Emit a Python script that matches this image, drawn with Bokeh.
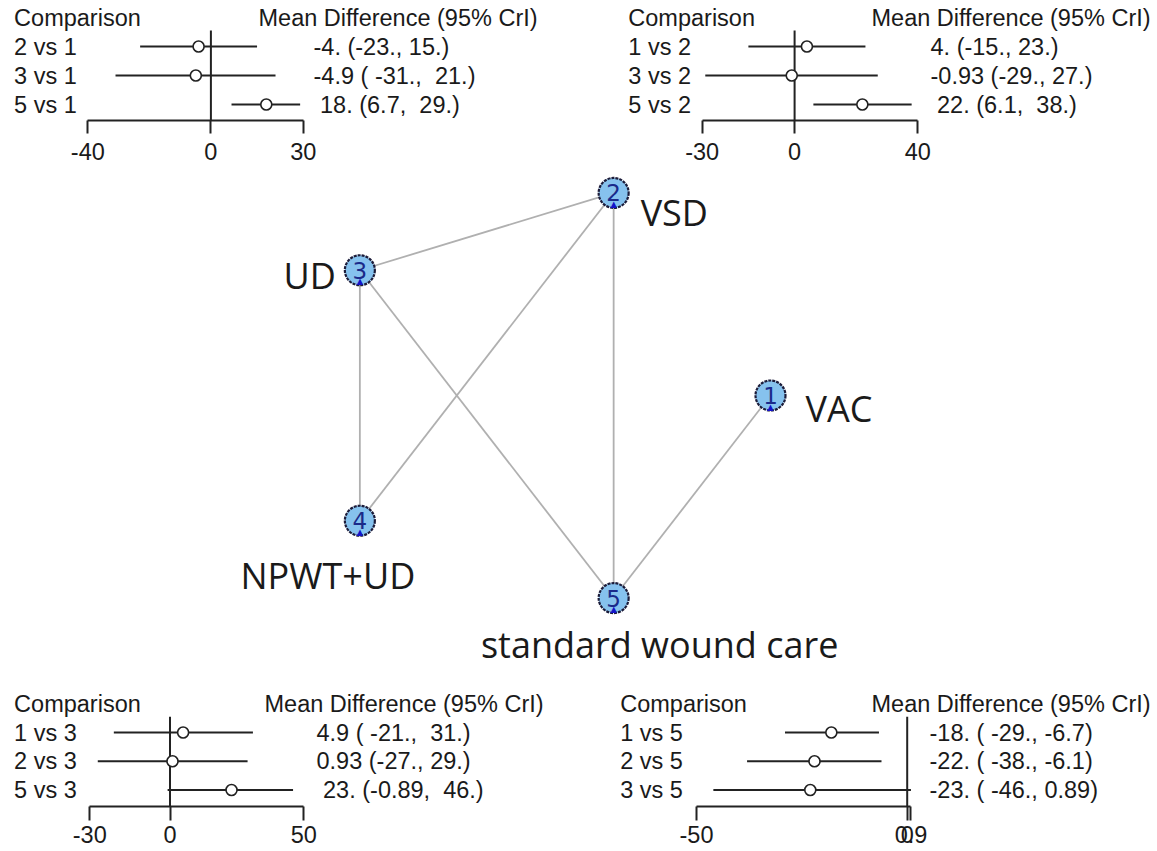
from bokeh.plotting import figure
from bokeh.models import Range1d, LinearAxis, FixedTicker, CustomJSTickFormatter
from bokeh.layouts import column, row
from bokeh.core.properties import value
from bokeh.embed import file_html
from bokeh.resources import INLINE

# ---------------- data ----------------
header_comp = "Comparison"
header_md = "Mean Difference (95% CrI)"

tl_labels = ["2 vs 1", "3 vs 1", "5 vs 1"]
tl_mean = [-4.0, -4.9, 18.0]
tl_lower = [-23.0, -31.0, 6.7]
tl_upper = [15.0, 21.0, 29.0]
tl_text = ["-4. (-23., 15.)", "-4.9 ( -31.,  21.)", " 18. (6.7,  29.)"]
tl_ticks = [-40, 0, 30]

tr_labels = ["1 vs 2", "3 vs 2", "5 vs 2"]
tr_mean = [4.0, -0.93, 22.0]
tr_lower = [-15.0, -29.0, 6.1]
tr_upper = [23.0, 27.0, 38.0]
tr_text = ["4. (-15., 23.)", "-0.93 (-29., 27.)", " 22. (6.1,  38.)"]
tr_ticks = [-30, 0, 40]

bl_labels = ["1 vs 3", "2 vs 3", "5 vs 3"]
bl_mean = [4.9, 0.93, 23.0]
bl_lower = [-21.0, -27.0, -0.89]
bl_upper = [31.0, 29.0, 46.0]
bl_text = ["4.9 ( -21.,  31.)", "0.93 (-27., 29.)", " 23. (-0.89,  46.)"]
bl_ticks = [-30, 0, 50]

br_labels = ["1 vs 5", "2 vs 5", "3 vs 5"]
br_mean = [-18.0, -22.0, -23.0]
br_lower = [-29.0, -38.0, -46.0]
br_upper = [-6.7, -6.1, 0.89]
br_text = ["-18. ( -29., -6.7)", "-22. ( -38., -6.1)", "-23. ( -46., 0.89)"]
br_ticks = [-50, 0, 0.9]

node_ids = ["1", "2", "3", "4", "5"]
node_names = ["VAC", "VSD", "UD", "NPWT+UD", "standard wound care"]
node_x = [1.0, 0.309, -0.809, -0.809, 0.309]
node_y = [0.0, 0.951, 0.588, -0.588, -0.951]
edge_from = [3, 2, 2, 3, 3, 1]
edge_to = [2, 4, 5, 4, 5, 5]

# ---------------- styling ----------------
FONT = value("Liberation Sans")
TXT = "#1a1a1a"
FS = "23.5px"

fmt = CustomJSTickFormatter(code="""
    if (Math.abs(tick - Math.round(tick)) < 1e-9) { return String(Math.round(tick)); }
    return tick.toFixed(1);
""")


def nb(s):
    return s.replace(" ", "\u00a0")


def forest(labels, mean, lo, hi, texts, ticks, W, H, left_px, zero_px, scale,
           top_px, bottom_border, row1_px, row_gap, comp_px, head_px, val_px,
           tick_out, standoff):
    frame_bottom = top_px + H - bottom_border
    y_top = 1 - (row1_px - top_px) / row_gap
    y_bot = 1 + (frame_bottom - row1_px) / row_gap
    p = figure(width=W, height=H, output_backend="svg", toolbar_location=None,
               x_range=Range1d((left_px - zero_px) / scale, (left_px + W - zero_px) / scale),
               y_range=Range1d(y_bot, y_top),
               x_axis_location=None, y_axis_location=None,
               min_border_left=0, min_border_right=0, min_border_top=0,
               min_border_bottom=bottom_border)
    p.outline_line_color = None
    p.grid.visible = False
    n = len(labels)
    rows = list(range(1, n + 1))
    X = lambda px: (px - zero_px) / scale

    # zero line
    p.segment(x0=[0], x1=[0], y0=[0.45], y1=[y_bot], line_color="#222222", line_width=2)
    # CIs
    p.segment(x0=lo, x1=hi, y0=rows, y1=rows, line_color="#222222", line_width=2)
    p.scatter(mean, rows, marker="circle", size=11, fill_color="white",
              line_color="#222222", line_width=1.6)

    p.text(x=[X(comp_px)], y=[0], text=[header_comp], text_font=FONT, text_font_size=FS,
           text_color=TXT, text_baseline="middle", text_align="left")
    p.text(x=[X(head_px)], y=[0], text=[header_md], text_font=FONT, text_font_size=FS,
           text_color=TXT, text_baseline="middle", text_align="left")
    p.text(x=[X(comp_px)] * n, y=rows, text=labels, text_font=FONT, text_font_size=FS,
           text_color=TXT, text_baseline="middle", text_align="left")
    p.text(x=[X(val_px)] * n, y=rows, text=[nb(t) for t in texts], text_font=FONT,
           text_font_size=FS, text_color=TXT, text_baseline="middle", text_align="left")

    ax = LinearAxis(ticker=FixedTicker(ticks=ticks), formatter=fmt)
    ax.bounds = (min(ticks), max(ticks))
    ax.axis_line_width = 2
    ax.axis_line_color = "#222222"
    ax.major_tick_line_width = 2
    ax.major_tick_line_color = "#222222"
    ax.major_tick_out = tick_out
    ax.major_tick_in = 0
    ax.minor_tick_line_color = None
    ax.major_label_text_font = "Liberation Sans"
    ax.major_label_text_font_size = FS
    ax.major_label_text_color = TXT
    ax.major_label_standoff = standoff
    p.add_layout(ax, "below")
    return p


TOP_H = 170
NET_H = 518
BOT_H = 163
BOT_TOP = TOP_H + NET_H

tl = forest(tl_labels, tl_mean, tl_lower, tl_upper, tl_text, tl_ticks,
            586, TOP_H, 0, 210.4, 3.077, 0, 50, 46, 29, 13.6, 258, 313, 13, 9)
tr = forest(tr_labels, tr_mean, tr_lower, tr_upper, tr_text, tr_ticks,
            571, TOP_H, 586, 794.1, 3.08, 0, 50, 46, 29, 627.8, 871, 930, 13, 9)
bl = forest(bl_labels, bl_mean, bl_lower, bl_upper, bl_text, bl_ticks,
            586, BOT_H, 0, 169.5, 2.675, BOT_TOP, 45, 732, 28.75, 13.6, 264, 316, 14, 5)
br = forest(br_labels, br_mean, br_lower, br_upper, br_text, br_ticks,
            571, BOT_H, 586, 906.7, 4.214, BOT_TOP, 45, 732, 28.75, 619.7, 871, 929, 14, 5)

# ---------------- network ----------------
CX, CY, RX, RY = 543.0, 395.0, 227.0, 213.0
NW, NTOP, NLEFT = 1157, TOP_H, 0
net = figure(width=NW, height=NET_H, output_backend="svg", toolbar_location=None,
             x_range=Range1d((NLEFT - CX) / RX, (NLEFT + NW - CX) / RX),
             y_range=Range1d((CY - (NTOP + NET_H)) / RY, (CY - NTOP) / RY),
             x_axis_location=None, y_axis_location=None, min_border=0)
net.outline_line_color = None
net.grid.visible = False

ex0 = [node_x[i - 1] for i in edge_from]
ey0 = [node_y[i - 1] for i in edge_from]
ex1 = [node_x[i - 1] for i in edge_to]
ey1 = [node_y[i - 1] for i in edge_to]
net.segment(x0=ex0, y0=ey0, x1=ex1, y1=ey1, line_color="#b0b0b0", line_width=1.8)

net.scatter(node_x, node_y, marker="circle", size=30, fill_color="#86c2ee",
            line_color="#1c1c3a", line_width=2.2, line_dash="3 1")
net.text(node_x, node_y, text=["\u25b2"] * 5, y_offset=11, text_align="center",
         text_baseline="middle", text_font_size="11px", text_color="#1414c8")
net.text(node_x, node_y, text=node_ids, text_align="center", text_baseline="middle",
         text_font=value("DejaVu Sans"), text_font_size="23px", text_color="#1a2a8a")

label_dx = [35, 27, -24, -32, 46]
label_dy = [13, 20, 5, 55, 46]
label_align = ["left", "left", "right", "center", "center"]
for i in range(5):
    net.text(x=[node_x[i]], y=[node_y[i]], text=[node_names[i]], x_offset=label_dx[i],
             y_offset=label_dy[i], text_align=label_align[i], text_baseline="middle",
             text_font=value("Open Sans"), text_font_size="36px", text_color="#1a1a1a")

layout = column(row(tl, tr), net, row(bl, br))
open("out.html", "w").write(file_html(layout, INLINE))
